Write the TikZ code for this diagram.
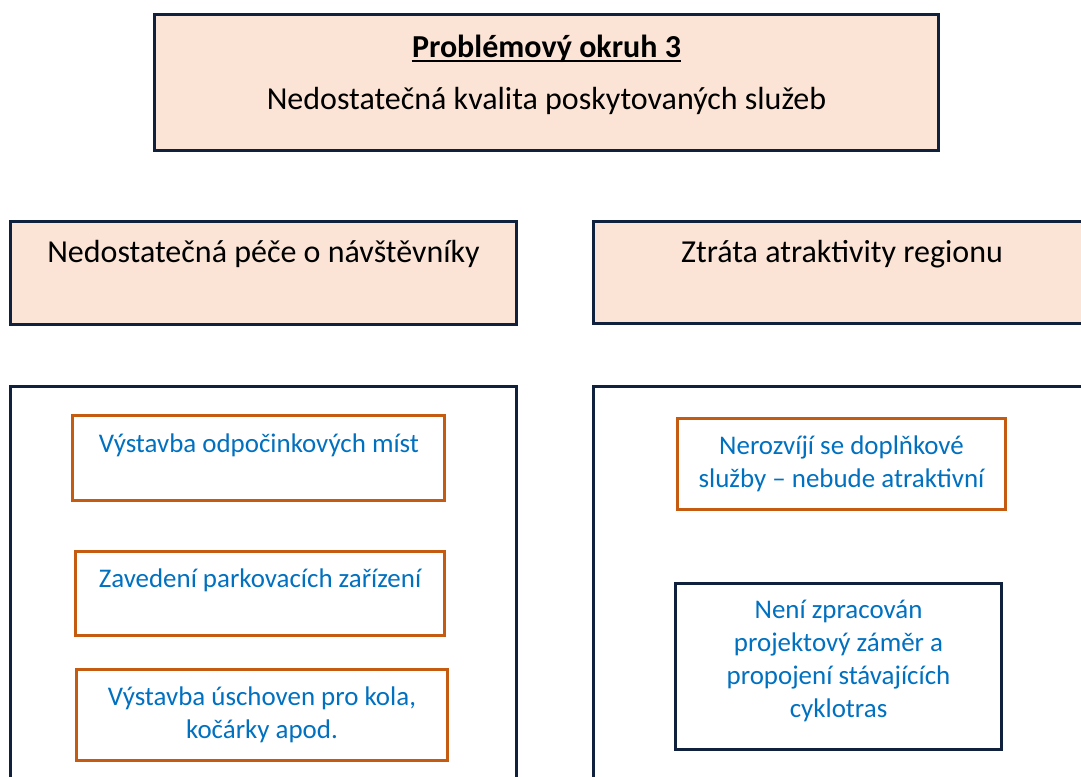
\documentclass[tikz,border=0pt]{standalone}
\usepackage{fontspec}
\setmainfont{Carlito}
\usetikzlibrary{positioning}
\definecolor{navy}{HTML}{10213D}
\definecolor{peach}{HTML}{FBE4D5}
\definecolor{rust}{HTML}{C55A11}
\definecolor{textblue}{HTML}{0070C0}

\begin{document}
\begin{tikzpicture}[x=0.75pt, y=-0.75pt,
  headbox/.style={draw=navy, fill=peach, line width=2.25pt, inner sep=0pt},
  groupbox/.style={draw=navy, line width=2.25pt, inner sep=0pt},
  itembox/.style={draw=rust, line width=2.25pt, inner sep=0pt},
  plainbox/.style={draw=navy, line width=2.25pt, inner sep=0pt},
  headtext/.style={font=\fontsize{24pt}{29pt}\selectfont, text=black, inner sep=0pt},
  itemtext/.style={font=\fontsize{20.2pt}{24.75pt}\selectfont, text=textblue, align=center, inner sep=0pt}]
  \useasboundingbox (0,0) rectangle (1081,776);
  \clip (0,0) rectangle (1081,776);

  % problem area
  \node[headbox, minimum width=588pt, minimum height=102pt] (okruh) at (546.5,82.5) {};
  \node[headtext, anchor=base] (okruhtitle) at (546.5,57) {\textbf{Problémový okruh 3}};
  \draw[line width=2pt] ([yshift=-3pt]okruhtitle.base west) -- ([yshift=-3pt]okruhtitle.base east);
  \node[headtext, anchor=base] (okruhsub) at (546.5,109) {Nedostatečná kvalita poskytovaných služeb};

  % two causes
  \node[headbox, minimum width=379.5pt, minimum height=77.25pt] (pece) at (263.5,273) {};
  \node[headtext, anchor=base] (pecetext) at (263.5,262) {Nedostatečná péče o návštěvníky};
  \node[headbox, minimum width=379.5pt, minimum height=76.5pt] (ztrata) at (846.5,272.5) {};
  \node[headtext, anchor=base] (ztratatext) at (842,262) {Ztráta atraktivity regionu};

  % groups of measures
  \node[groupbox, minimum width=379.5pt, minimum height=310pt] (levy) at (263.5,593) {};
  \node[groupbox, minimum width=379.5pt, minimum height=310pt] (pravy) at (846.5,593) {};

  \node[itembox, minimum width=279pt, minimum height=63.75pt] (odpocinek) at (258.5,458) {};
  \node[itemtext, anchor=base] (odpocinektext) at (259,452) {Výstavba odpočinkových míst};
  \node[itembox, minimum width=276.75pt, minimum height=63pt] (parkovani) at (260,593.5) {};
  \node[itemtext, anchor=base] (parkovanitext) at (260,587) {Zavedení parkovacích zařízení};
  \node[itembox, itemtext, minimum width=278.25pt, minimum height=68.25pt] (uschovny) at (262,715)
    {Výstavba úschoven pro kola,\\kočárky apod.};

  \node[itembox, itemtext, minimum width=246pt, minimum height=68.25pt] (sluzby) at (841.5,464)
    {Nerozvíjí se doplňkové\\služby -- nebude atraktivní};
  \node[plainbox, minimum width=244.5pt, minimum height=124.5pt] (zamer) at (838.5,666.5) {};
  \node[itemtext] (zamertext) at (838.5,661)
    {Není zpracován\\projektový záměr a\\propojení stávajících\\cyklotras};
\end{tikzpicture}
\end{document}
